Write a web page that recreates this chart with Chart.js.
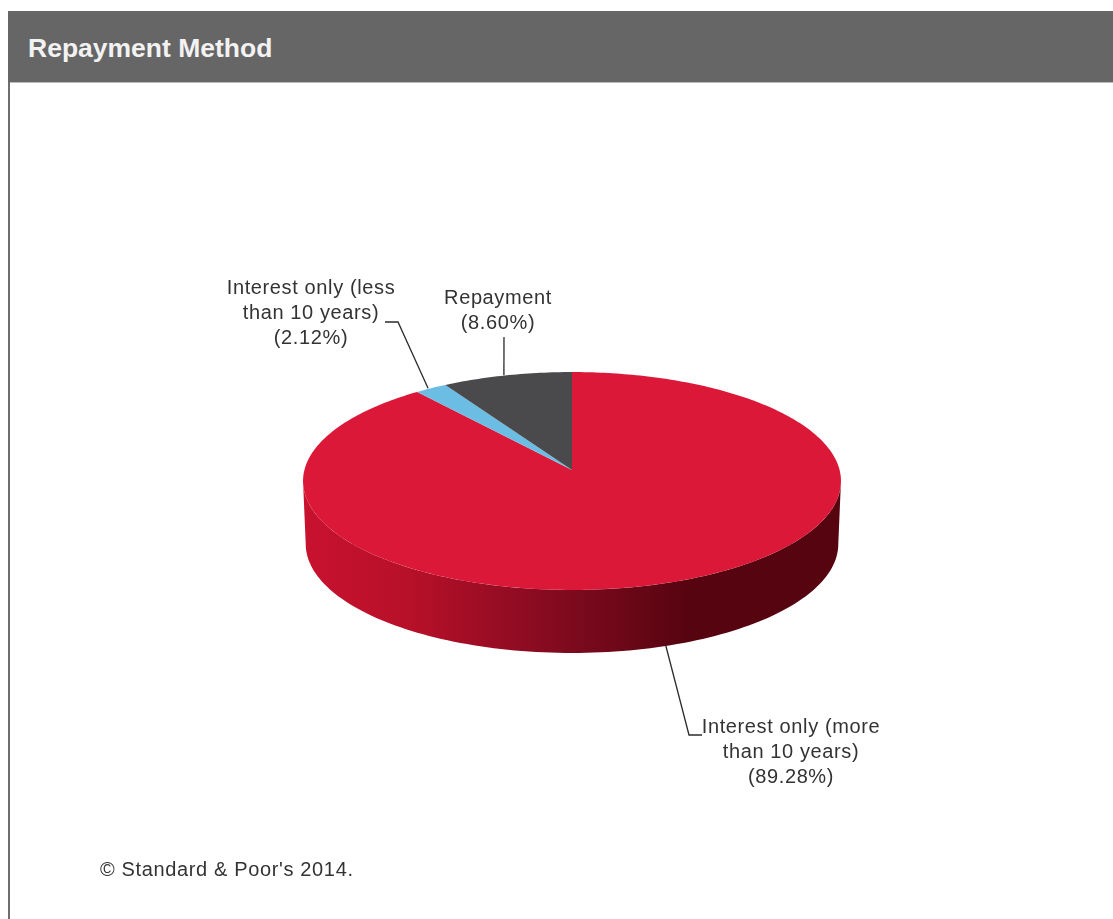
<!DOCTYPE html>
<html>
<head>
<meta charset="utf-8">
<title>Repayment Method</title>
<script src="https://cdn.jsdelivr.net/npm/chart.js@4"></script>
<style>
html,body{margin:0;padding:0;background:#fff;}
body{width:1113px;height:919px;position:relative;overflow:hidden;font-family:"Liberation Sans",Arial,sans-serif;}
#head{position:absolute;left:8px;top:11px;width:1105px;height:71px;background:#666;color:#f2f2f2;font-weight:bold;font-size:26.5px;line-height:74px;text-indent:20px;border-bottom:1px solid #bbb;}
#edge{position:absolute;left:8px;top:82px;width:2px;height:837px;background:#6e6e6e;}
#foot{position:absolute;left:100px;top:856px;font-size:20px;letter-spacing:0.64px;line-height:26px;color:#333;white-space:nowrap;}
canvas{position:absolute;left:0;top:0;}
</style>
</head>
<body>
<canvas id="pieChart" width="1113" height="919"></canvas>
<div id="head">Repayment Method</div>
<div id="edge"></div>
<div id="foot">© Standard &amp; Poor's 2014.</div>

<script>
const categories = ["Interest only (more than 10 years)", "Interest only (less than 10 years)", "Repayment"];
const shares = [89.28, 2.12, 8.60];
const sliceColors = ["#dc1839", "#6cbde4", "#4a4a4c"];

// wrapped text and leader elbows for each slice
const labelLines = [
  ["Interest only (more", "than 10 years)"],
  ["Interest only (less", "than 10 years)"],
  ["Repayment"]
];
const labelCentres = [[791, 727], [311, 288], [498, 298]];
const leaderElbows = [
  [[702, 735], [689, 735]],
  [[385, 322], [398, 322]],
  [[504, 337]]
];

const TILT = 0.403;      // vertical squash of the disc
const PERSP = 0.101;     // far edge smaller than near edge
const DEPTH = 63;        // thickness of the disc
const RIM_SCALE = 0.99;

// disc coordinates -> screen, theta is the chart.js arc angle
function project(arc, theta, radius, drop, scale){
  const u = Math.cos(theta);
  const v = -Math.sin(theta);
  const w = 1 + PERSP * v;
  return {
    x: arc.x + radius * (scale || 1) * u / w,
    y: arc.y - radius * TILT * v / w + (drop || 0)
  };
}

function sideGradient(ctx){
  const g = ctx.createLinearGradient(304, 0, 840, 0);
  g.addColorStop(0, "#c8122f");
  g.addColorStop(0.2, "#b71029");
  g.addColorStop(0.5, "#7d0a1e");
  g.addColorStop(0.72, "#560410");
  g.addColorStop(1, "#560410");
  return g;
}

const tiltedPie = {
  id: "tiltedPie",
  beforeDatasetsDraw(chart){
    const ctx = chart.ctx;
    const arcs = chart.getDatasetMeta(0).data;
    const first = arcs[0];
    const R = first.outerRadius;
    const start = Math.asin(PERSP);   // widest point of the projected outline
    const end = Math.PI - start;
    const steps = 120;

    // side wall along the near half
    ctx.save();
    ctx.beginPath();
    for(let i = 0; i <= steps; i++){
      const p = project(first, start + (end - start) * i / steps, R);
      if(i === 0){ ctx.moveTo(p.x, p.y); } else { ctx.lineTo(p.x, p.y); }
    }
    for(let i = steps; i >= 0; i--){
      const p = project(first, start + (end - start) * i / steps, R, DEPTH, RIM_SCALE);
      ctx.lineTo(p.x, p.y);
    }
    ctx.closePath();
    ctx.fillStyle = sideGradient(ctx);
    ctx.fill();

    // top face, one path per slice
    arcs.forEach((arc, i) => {
      const props = arc.getProps(["x", "y", "startAngle", "endAngle", "outerRadius"], true);
      const n = Math.max(8, Math.ceil((props.endAngle - props.startAngle) * 60));
      ctx.beginPath();
      const c = project(props, 0, 0);
      ctx.moveTo(c.x, c.y);
      for(let k = 0; k <= n; k++){
        const th = props.startAngle + (props.endAngle - props.startAngle) * k / n;
        const p = project(props, th, props.outerRadius);
        ctx.lineTo(p.x, p.y);
      }
      ctx.closePath();
      ctx.fillStyle = arc.options.backgroundColor;
      ctx.fill();
    });
    ctx.restore();

    return false; // the flat arcs are replaced by the paths above
  },
  afterDraw(chart){
    const ctx = chart.ctx;
    const arcs = chart.getDatasetMeta(0).data;
    ctx.save();

    // leader lines
    ctx.strokeStyle = "#2b2b2b";
    ctx.lineWidth = 1.3;
    arcs.forEach((arc, i) => {
      const props = arc.getProps(["x", "y", "startAngle", "endAngle", "outerRadius"], true);
      const mid = (props.startAngle + props.endAngle) / 2;
      const onNearSide = Math.sin(mid) > 0;
      const end = project(props, mid, props.outerRadius, onNearSide ? DEPTH : 0, onNearSide ? RIM_SCALE : 1);
      ctx.beginPath();
      leaderElbows[i].forEach((pt, k) => {
        if(k === 0){ ctx.moveTo(pt[0], pt[1]); } else { ctx.lineTo(pt[0], pt[1]); }
      });
      ctx.lineTo(end.x - 3, end.y);
      ctx.stroke();
    });

    // slice labels
    ctx.font = '20px "Liberation Sans", Arial, sans-serif';
    ctx.letterSpacing = "0.62px";
    ctx.fillStyle = "#333";
    ctx.textAlign = "center";
    ctx.textBaseline = "middle";
    shares.forEach((share, i) => {
      const lines = labelLines[i].concat("(" + share.toFixed(2) + "%)");
      lines.forEach((line, k) => {
        ctx.fillText(line, labelCentres[i][0], labelCentres[i][1] + k * 25);
      });
    });
    ctx.restore();
  }
};

const chart = new Chart(document.getElementById("pieChart"), {
  type: "pie",
  data: {
    labels: categories,
    datasets: [{
      data: shares,
      backgroundColor: sliceColors,
      borderWidth: 0
    }]
  },
  options: {
    responsive: false,
    animation: false,
    events: [],
    layout: {
      padding: { left: 304.4, right: 273.4, top: 202.4, bottom: 181.4 }
    },
    plugins: {
      legend: { display: false },
      tooltip: { enabled: false }
    }
  },
  plugins: [tiltedPie]
});
</script>
</body>
</html>
